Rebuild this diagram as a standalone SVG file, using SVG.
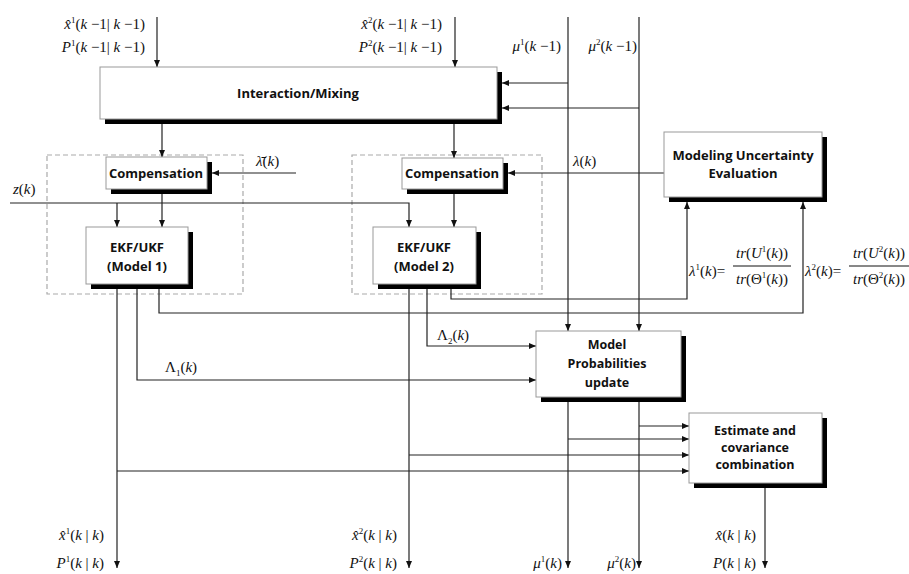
<svg xmlns="http://www.w3.org/2000/svg" width="909" height="574" viewBox="0 0 909 574">
<defs>
<marker id="ah" markerWidth="7" markerHeight="6" refX="7" refY="3" orient="auto" markerUnits="userSpaceOnUse"><path d="M0,0 L7,3 L0,6 z" fill="#111"/></marker>
</defs>
<style>
.box{fill:#fff;stroke:#999;stroke-width:1}
.sh{fill:#000}
.lbl{font-family:"Open Sans","DejaVu Sans",sans-serif;font-weight:bold;font-size:13px;fill:#111;text-anchor:middle}
.sm{font-size:12.5px}
.ln{fill:none;stroke:#222;stroke-width:1.2}
.ar{marker-end:url(#ah)}
.dash{fill:none;stroke:#aaa;stroke-width:1.2;stroke-dasharray:5,3}
.m{font-family:"Liberation Serif","Times New Roman",serif;font-size:15px;fill:#111}
.i{font-style:italic}
.s{font-size:9px}
.e{text-anchor:end}
.c{text-anchor:middle}
</style>
<rect width="909" height="574" fill="#fff"/>

<g id="groups">
<rect class="dash" x="47" y="155" width="196" height="139"/>
<rect class="dash" x="352" y="155" width="190" height="139"/>
</g>

<g id="connectors">
<path class="ln ar" d="M157,17 V67"/>
<path class="ln ar" d="M455,17 V67"/>
<path class="ln ar" d="M568,17 V331"/>
<path class="ln ar" d="M639,17 V331"/>
<path class="ln ar" d="M568,83 H502"/>
<path class="ln ar" d="M639,108 H502"/>
<path class="ln ar" d="M162,124 V157"/>
<path class="ln ar" d="M454,124 V158"/>
<path class="ln ar" d="M10,203 H409 V227"/>
<path class="ln ar" d="M117,203 V227"/>
<path class="ln ar" d="M162,194 V227"/>
<path class="ln ar" d="M454,194 V227"/>
<path class="ln ar" d="M296,173 H212"/>
<path class="ln ar" d="M664,173 H508"/>
<path class="ln ar" d="M117,289 V568"/>
<path class="ln ar" d="M137,289 V380 H536"/>
<path class="ln ar" d="M159,289 V313 H803 V202"/>
<path class="ln ar" d="M409,289 V568"/>
<path class="ln ar" d="M427,289 V346 H536"/>
<path class="ln ar" d="M451,289 V299 H687 V202"/>
<path class="ln ar" d="M117,471 H689"/>
<path class="ln ar" d="M409,455 H689"/>
<path class="ln ar" d="M568,402 V568"/>
<path class="ln ar" d="M639,402 V568"/>
<path class="ln ar" d="M568,439 H689"/>
<path class="ln ar" d="M639,426 H689"/>
<path class="ln ar" d="M765,488 V568"/>
</g>

<g id="interaction">
<rect class="sh" x="105" y="72" width="397" height="52"/>
<rect class="box" x="100" y="67" width="397" height="52"/>
<text class="lbl" x="298" y="98">Interaction/Mixing</text>
</g>
<g id="compensation1">
<rect class="sh" x="111" y="162" width="101" height="32"/>
<rect class="box" x="106" y="157" width="101" height="32"/>
<text class="lbl" x="156" y="178">Compensation</text>
</g>
<g id="compensation2">
<rect class="sh" x="407" y="163" width="101" height="31"/>
<rect class="box" x="402" y="158" width="101" height="31"/>
<text class="lbl" x="452" y="178">Compensation</text>
</g>
<g id="ekf1">
<rect class="sh" x="91" y="232" width="102" height="57"/>
<rect class="box" x="86" y="227" width="102" height="57"/>
<text class="lbl" x="137" y="252">EKF/UKF</text>
<text class="lbl" x="137" y="271">(Model 1)</text>
</g>
<g id="ekf2">
<rect class="sh" x="378" y="232" width="103" height="57"/>
<rect class="box" x="373" y="227" width="103" height="57"/>
<text class="lbl" x="424" y="252">EKF/UKF</text>
<text class="lbl" x="424" y="271">(Model 2)</text>
</g>
<g id="uncertainty">
<rect class="sh" x="669" y="137" width="158" height="65"/>
<rect class="box" x="664" y="132" width="158" height="65"/>
<text class="lbl" x="743" y="160">Modeling Uncertainty</text>
<text class="lbl" x="743" y="178">Evaluation</text>
</g>
<g id="modelprob">
<rect class="sh" x="541" y="336" width="145" height="66"/>
<rect class="box" x="536" y="331" width="145" height="66"/>
<text class="lbl sm" x="607" y="349">Model</text>
<text class="lbl sm" x="607" y="368">Probabilities</text>
<text class="lbl sm" x="607" y="387">update</text>
</g>
<g id="combination">
<rect class="sh" x="694" y="418" width="133" height="70"/>
<rect class="box" x="689" y="413" width="133" height="70"/>
<text class="lbl sm" x="755" y="435">Estimate and</text>
<text class="lbl sm" x="755" y="452">covariance</text>
<text class="lbl sm" x="755" y="469">combination</text>
</g>

<g id="labels">
<text class="m e" x="145" y="29"><tspan class="i">x&#x302;</tspan><tspan class="s" dy="-6">1</tspan><tspan dy="6">(</tspan><tspan class="i">k</tspan> &#x2212;1| <tspan class="i">k</tspan> &#x2212;1)</text>
<text class="m e" x="145" y="52"><tspan class="i">P</tspan><tspan class="s" dy="-6">1</tspan><tspan dy="6">(</tspan><tspan class="i">k</tspan> &#x2212;1| <tspan class="i">k</tspan> &#x2212;1)</text>
<text class="m e" x="442" y="29"><tspan class="i">x&#x302;</tspan><tspan class="s" dy="-6">2</tspan><tspan dy="6">(</tspan><tspan class="i">k</tspan> &#x2212;1| <tspan class="i">k</tspan> &#x2212;1)</text>
<text class="m e" x="442" y="52"><tspan class="i">P</tspan><tspan class="s" dy="-6">2</tspan><tspan dy="6">(</tspan><tspan class="i">k</tspan> &#x2212;1| <tspan class="i">k</tspan> &#x2212;1)</text>
<text class="m e" x="561" y="51"><tspan class="i">&#x3bc;</tspan><tspan class="s" dy="-6">1</tspan><tspan dy="6">(</tspan><tspan class="i">k</tspan> &#x2212;1)</text>
<text class="m e" x="637" y="51"><tspan class="i">&#x3bc;</tspan><tspan class="s" dy="-6">2</tspan><tspan dy="6">(</tspan><tspan class="i">k</tspan> &#x2212;1)</text>
<text class="m" x="13" y="194"><tspan class="i">z</tspan>(<tspan class="i">k</tspan>)</text>
<text class="m" x="256" y="166"><tspan class="i">&#x3bb;&#x304;</tspan>(<tspan class="i">k</tspan>)</text>
<text class="m" x="573" y="166"><tspan class="i">&#x3bb;</tspan>(<tspan class="i">k</tspan>)</text>
<text class="m" x="437" y="340">&#x39b;<tspan class="s" dy="4">2</tspan><tspan dy="-4">(</tspan><tspan class="i">k</tspan>)</text>
<text class="m" x="165" y="372">&#x39b;<tspan class="s" dy="4">1</tspan><tspan dy="-4">(</tspan><tspan class="i">k</tspan>)</text>

<text class="m" x="689" y="276"><tspan class="i">&#x3bb;</tspan><tspan class="s" dy="-6">1</tspan><tspan dy="6">(</tspan><tspan class="i">k</tspan>)=</text>
<text class="m c" x="762" y="258"><tspan class="i">tr</tspan>(<tspan class="i">U</tspan><tspan class="s" dy="-6">1</tspan><tspan dy="6">(</tspan><tspan class="i">k</tspan>))</text>
<line x1="733" y1="266" x2="791" y2="266" stroke="#111" stroke-width="1"/>
<text class="m c" x="762" y="284"><tspan class="i">tr</tspan>(&#x398;<tspan class="s" dy="-6">1</tspan><tspan dy="6">(</tspan><tspan class="i">k</tspan>))</text>

<text class="m" x="805" y="276"><tspan class="i">&#x3bb;</tspan><tspan class="s" dy="-6">2</tspan><tspan dy="6">(</tspan><tspan class="i">k</tspan>)=</text>
<text class="m c" x="879" y="258"><tspan class="i">tr</tspan>(<tspan class="i">U</tspan><tspan class="s" dy="-6">2</tspan><tspan dy="6">(</tspan><tspan class="i">k</tspan>))</text>
<line x1="849" y1="266" x2="909" y2="266" stroke="#111" stroke-width="1"/>
<text class="m c" x="879" y="284"><tspan class="i">tr</tspan>(&#x398;<tspan class="s" dy="-6">2</tspan><tspan dy="6">(</tspan><tspan class="i">k</tspan>))</text>

<text class="m e" x="104" y="540"><tspan class="i">x&#x302;</tspan><tspan class="s" dy="-6">1</tspan><tspan dy="6">(</tspan><tspan class="i">k</tspan> | <tspan class="i">k</tspan>)</text>
<text class="m e" x="104" y="568"><tspan class="i">P</tspan><tspan class="s" dy="-6">1</tspan><tspan dy="6">(</tspan><tspan class="i">k</tspan> | <tspan class="i">k</tspan>)</text>
<text class="m e" x="397" y="540"><tspan class="i">x&#x302;</tspan><tspan class="s" dy="-6">2</tspan><tspan dy="6">(</tspan><tspan class="i">k</tspan> | <tspan class="i">k</tspan>)</text>
<text class="m e" x="397" y="568"><tspan class="i">P</tspan><tspan class="s" dy="-6">2</tspan><tspan dy="6">(</tspan><tspan class="i">k</tspan> | <tspan class="i">k</tspan>)</text>
<text class="m e" x="562" y="568"><tspan class="i">&#x3bc;</tspan><tspan class="s" dy="-6">1</tspan><tspan dy="6">(</tspan><tspan class="i">k</tspan>)</text>
<text class="m e" x="636" y="568"><tspan class="i">&#x3bc;</tspan><tspan class="s" dy="-6">2</tspan><tspan dy="6">(</tspan><tspan class="i">k</tspan>)</text>
<text class="m e" x="756" y="540"><tspan class="i">x&#x302;</tspan>(<tspan class="i">k</tspan> | <tspan class="i">k</tspan>)</text>
<text class="m e" x="756" y="568"><tspan class="i">P</tspan>(<tspan class="i">k</tspan> | <tspan class="i">k</tspan>)</text>
</g>
</svg>
